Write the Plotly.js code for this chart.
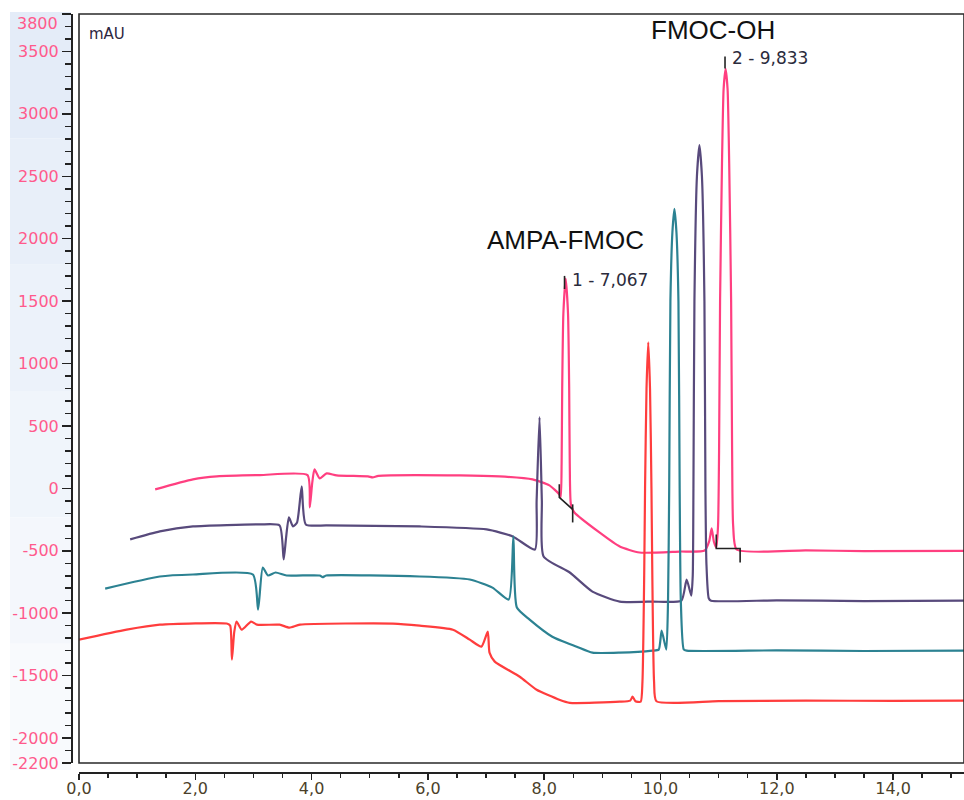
<!DOCTYPE html>
<html>
<head>
<meta charset="utf-8">
<script src="https://cdn.plot.ly/plotly-3.0.1.min.js"></script>
<style>html,body{margin:0;padding:0;background:#fff;}#chart{width:964px;height:800px;}</style>
</head>
<body>
<div id="chart"></div>
<script>
// ---- Data (retention time in min, signal in mAU as displayed with offsets) ----
const pinkTrace = [[1.31,-8],[1.96,72],[2.37,96],[3.11,106],[3.93,106],[3.97,-152],[4.01,40],[4.05,152],[4.14,80],[4.26,120],[4.43,104],[4.97,96],[5.05,88],[5.15,100],[6.55,104],[7.23,96],[7.80,72],[8.09,24],[8.26,-48],[8.285,-70],[8.30,200],[8.31,800],[8.33,1400],[8.37,1680],[8.41,1400],[8.43,800],[8.44,200],[8.46,-130],[8.52,-193],[8.95,-353],[9.30,-466],[9.64,-514],[10.33,-506],[10.76,-498],[10.84,-420],[10.88,-321],[10.92,-430],[10.96,-474],[10.99,-300],[11.008,300],[11.025,1500],[11.058,2600],[11.086,3200],[11.12,3360],[11.154,3200],[11.182,2600],[11.215,1500],[11.232,300],[11.25,-300],[11.31,-490],[12.5,-497],[13.5,-502],[15.22,-500]];
const purpleTrace = [[0.88,-409],[1.39,-345],[1.96,-305],[3.11,-289],[3.45,-297],[3.52,-570],[3.56,-400],[3.61,-233],[3.68,-305],[3.75,-273],[3.83,16],[3.90,-289],[4.26,-297],[5.86,-305],[7.01,-329],[7.46,-385],[7.84,-490],[7.87,-100],[7.92,570],[7.96,-100],[7.99,-546],[8.44,-674],[8.83,-827],[9.30,-907],[9.86,-907],[10.36,-899],[10.45,-730],[10.53,-859],[10.555,-700],[10.567,0],[10.584,1500],[10.627,2500],[10.67,2750],[10.713,2500],[10.756,1500],[10.773,0],[10.79,-600],[10.83,-880],[10.87,-900],[12.0,-897],[13.5,-903],[15.22,-900]];
const tealTrace = [[0.45,-803],[1.39,-706],[1.96,-690],[2.99,-690],[3.08,-971],[3.16,-634],[3.25,-698],[3.38,-674],[3.57,-698],[4.14,-698],[4.19,-712],[4.25,-698],[5.86,-706],[6.72,-730],[7.11,-795],[7.39,-891],[7.47,-385],[7.53,-955],[7.75,-1051],[8.14,-1188],[8.56,-1268],[8.83,-1316],[9.30,-1316],[9.86,-1300],[9.97,-1292],[10.02,-1140],[10.10,-1292],[10.13,-900],[10.15,0],[10.171,1500],[10.205,2050],[10.24,2240],[10.275,2050],[10.309,1500],[10.33,0],[10.35,-900],[10.40,-1290],[10.45,-1300],[12.0,-1298],[13.5,-1303],[15.22,-1300]];
const redTrace = [[0,-1212],[0.82,-1132],[1.39,-1092],[2.54,-1083],[2.60,-1100],[2.63,-1372],[2.67,-1150],[2.71,-1067],[2.80,-1132],[2.96,-1067],[3.06,-1092],[3.45,-1092],[3.62,-1116],[3.80,-1092],[5.40,-1083],[5.86,-1100],[6.43,-1132],[6.72,-1212],[6.92,-1268],[7.03,-1148],[7.06,-1316],[7.15,-1388],[7.58,-1509],[7.87,-1613],[8.26,-1693],[8.44,-1718],[9.30,-1709],[9.48,-1700],[9.52,-1669],[9.57,-1705],[9.66,-1709],[9.69,-1550],[9.72,-700],[9.735,0],[9.76,800],[9.79,1170],[9.82,800],[9.845,0],[9.86,-700],[9.89,-1550],[9.93,-1705],[11.0,-1705],[12.5,-1700],[14.0,-1703],[15.22,-1700]];

// integration markers
const peak1ApexX = [8.35, 8.35], peak1ApexY = [1702, 1597];
const peak1BaseX = [8.26, 8.26, 8.49, null, 8.49, 8.49], peak1BaseY = [32, -72, -169, null, -128, -273];
const peak2ApexX = [11.11, 11.11], peak2ApexY = [3459, 3363];
const peak2BaseX = [10.96, 10.96, 11.37, 11.37], peak2BaseY = [-369, -482, -482, -594];

// labels
const peakNames = ["AMPA-FMOC", "FMOC-OH"];
const peakNamePos = [[6.98, 1990], [9.81, 3668]];
const peakLabels = ["1 - 7,067", "2 - 9,833"];
const peakLabelPos = [[8.44, 1670], [11.19, 3447]];

const xTickVals = [0, 2, 4, 6, 8, 10, 12, 14];
const xTickText = ["0,0", "2,0", "4,0", "6,0", "8,0", "10,0", "12,0", "14,0"];
const yTickVals = [-2200, -2000, -1500, -1000, -500, 0, 500, 1000, 1500, 2000, 2500, 3000, 3500, 3800];
const yRange = [-2200, 3800];
const xRange = [0, 15.22];

// ---- Build ----
const series = [
  {d: pinkTrace, c: '#ff3f80'},
  {d: purpleTrace, c: '#584a7c'},
  {d: tealTrace, c: '#2c8292'},
  {d: redTrace, c: '#ff3d3d'}
];
const traces = series.map(s => ({
  type: 'scatter', mode: 'lines',
  x: s.d.map(p => p[0]), y: s.d.map(p => p[1]),
  line: {color: s.c, width: 2.2, shape: 'spline', smoothing: 0.55}, hoverinfo: 'skip'
}));
[[peak1ApexX, peak1ApexY], [peak1BaseX, peak1BaseY], [peak2ApexX, peak2ApexY], [peak2BaseX, peak2BaseY]].forEach(m => {
  traces.push({type: 'scatter', mode: 'lines', x: m[0], y: m[1], line: {color: '#222', width: 1.6}, hoverinfo: 'skip', connectgaps: false});
});

const pinkCol = '#ff5a8c';
const annotations = [];
peakNames.forEach((t, i) => annotations.push({
  text: t, x: peakNamePos[i][0], y: peakNamePos[i][1], xref: 'x', yref: 'y',
  xanchor: 'left', yanchor: 'middle', showarrow: false,
  font: {family: 'Liberation Sans, Arial, sans-serif', size: 26, color: '#111'}
}));
peakLabels.forEach((t, i) => annotations.push({
  text: t, x: peakLabelPos[i][0], y: peakLabelPos[i][1], xref: 'x', yref: 'y',
  xanchor: 'left', yanchor: 'middle', showarrow: false,
  font: {family: 'DejaVu Sans, sans-serif', size: 17, color: '#2b2b3c'}
}));
annotations.push({text: 'mAU', xref: 'paper', yref: 'paper', x: 0.0168, y: 0.9743, xanchor: 'left', yanchor: 'middle', showarrow: false,
  font: {family: 'DejaVu Sans, sans-serif', size: 15, color: '#2e2640'}});
annotations.push({text: '3800', xref: 'paper', yref: 'paper', x: 0, y: 0.9881, xanchor: 'right', yanchor: 'middle', xshift: -12, showarrow: false,
  font: {family: 'DejaVu Sans, sans-serif', size: 16, color: pinkCol}});

// background band for the y-axis area (light blue fading downward)
const shapes = [];
const bandCols = ['#e4ecf8', '#e8eff9', '#ecf2fa', '#f0f5fb', '#f4f7fc', '#f8fafd'];
const bandTop = 12, bandBottom = 770, paperTopPx = 14, paperH = 759;
bandCols.forEach((c, i) => {
  const y0px = bandTop + (bandBottom - bandTop) * i / bandCols.length;
  const y1px = bandTop + (bandBottom - bandTop) * (i + 1) / bandCols.length;
  shapes.push({type: 'rect', xref: 'paper', yref: 'paper', layer: 'below',
    x0: -62 / 892, x1: -1 / 892,
    y0: (paperTopPx + paperH - y1px) / paperH, y1: (paperTopPx + paperH - y0px) / paperH,
    fillcolor: c, line: {width: 0}});
});
shapes.push({type: 'rect', xref: 'x domain', yref: 'y domain', x0: 0, x1: 1, y0: 0, y1: 1,
  line: {color: '#2a2a2a', width: 1.6}, fillcolor: 'rgba(0,0,0,0)', layer: 'above'});

const layout = {
  width: 964, height: 800,
  margin: {l: 72, r: 0, t: 14, b: 27, pad: 0},
  paper_bgcolor: '#ffffff', plot_bgcolor: '#ffffff',
  showlegend: false,
  hovermode: false,
  font: {family: 'DejaVu Sans, sans-serif', size: 16, color: '#333'},
  xaxis: {
    domain: [7 / 892, 1], anchor: 'free', position: 0, range: xRange,
    tickmode: 'array', tickvals: xTickVals, ticktext: xTickText,
    ticks: 'outside', ticklen: 6, tickwidth: 1.5, tickcolor: '#222',
    ticklabelstandoff: -5,
    showline: true, linecolor: '#222', linewidth: 2,
    showgrid: false, zeroline: false,
    minor: {tickmode: 'linear', tick0: 0, dtick: 0.5, ticklen: 4, tickwidth: 1.5, tickcolor: '#222', ticks: 'outside', showgrid: false},
    tickfont: {family: 'DejaVu Sans, sans-serif', size: 16, color: '#4b3f2a'}
  },
  yaxis: {
    domain: [10 / 759, 1], anchor: 'free', position: 0, range: yRange,
    tickmode: 'array', tickvals: yTickVals, ticktext: yTickVals.map(v => v === 3800 ? '' : String(v)),
    ticks: 'outside', ticklen: 9, tickwidth: 1.5, tickcolor: '#222',
    showline: true, linecolor: '#222', linewidth: 2,
    showgrid: false, zeroline: false,
    minor: {tickmode: 'linear', tick0: 0, dtick: 100, ticklen: 6, tickwidth: 1.5, tickcolor: '#222', ticks: 'outside', showgrid: false},
    tickfont: {family: 'DejaVu Sans, sans-serif', size: 16, color: pinkCol}
  },
  annotations: annotations,
  shapes: shapes
};

Plotly.newPlot('chart', traces, layout, {displayModeBar: false, staticPlot: true});
</script>
</body>
</html>
